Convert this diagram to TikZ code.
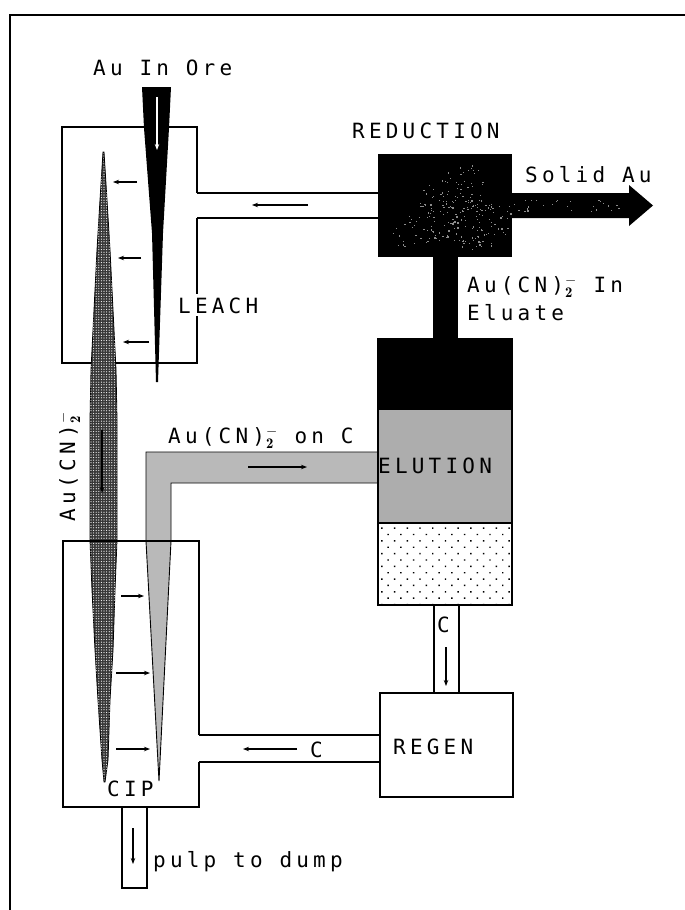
\documentclass[tikz,border=0pt]{standalone}
\usepackage{fontspec}
\newfontfamily\pf[LetterSpace=20]{DejaVu Sans Mono}
\usetikzlibrary{arrows.meta,patterns.meta}
\begin{document}
\begin{tikzpicture}[x=1pt,y=-1pt,
  lbl/.style={font=\pf\fontsize{21}{22}\selectfont, inner sep=0pt, anchor=base west},
  outl/.style={line width=1.1pt},
  arr/.style={line width=1.1pt, -{Stealth[length=6pt,width=4.5pt]}},
  warr/.style={line width=1.1pt, white, -{Stealth[length=6pt,width=4.5pt]}},
  darkspindle/.style={fill=black!78, draw=black, line width=0.8pt,
     postaction={pattern={Dots[distance=2.6pt,radius=0.6pt]}, pattern color=white}},
  lightgray/.style={fill=black!25, draw=black, line width=0.9pt,
     postaction={pattern={Dots[distance=2pt,radius=0.35pt]}, pattern color=black!50}},
]
\useasboundingbox (0,0) rectangle (685,910);
\newcommand\cnz{\kern1pt$^{-}_{\mathbf{2}}$}
% frame
\draw[line width=1.5pt] (10,910) -- (10,15) -- (685,15);

% LEACH box with pipe mouth
\draw[outl] (197,193) -- (197,127) -- (62,127) -- (62,363) -- (197,363) -- (197,218);
\draw[outl] (197,193) -- (378,193);
\draw[outl] (197,218) -- (378,218);
% CIP box with pipe mouth
\draw[outl] (199,735) -- (199,541) -- (63,541) -- (63,807) -- (199,807) -- (199,762);
\draw[outl] (199,735) -- (380,735);
\draw[outl] (199,762) -- (380,762);
% pulp pipe
\draw[outl] (122,807) -- (122,888) -- (147,888) -- (147,807);
% C pipe down
\draw[outl] (434,605) -- (434,693);
\draw[outl] (459,605) -- (459,693);
% REGEN box
\node[draw, outl, minimum width=133pt, minimum height=104pt, inner sep=0pt] (regen) at (446.5,745) {};

% ore funnel
\fill[black] (142,87) -- (171,87) -- (169,128) -- (163,233) -- (158,382) -- (156,382) -- (152,233) -- (144,128) -- cycle;
\draw[warr] (157,97) -- (157,150);

% dark spindle Au(CN)2-
\draw[darkspindle] (103,152) -- (100,200) -- (97,250) -- (94,310) -- (91,370) -- (90,420) -- (90,540)
  -- (92,590) -- (95,650) -- (98,700) -- (102,760) -- (104,782) -- (105,782) -- (108,760) -- (110,700)
  -- (113,650) -- (115,590) -- (117,540) -- (117,420) -- (116,370) -- (113,310) -- (110,250)
  -- (107,200) -- (104,152) -- cycle;
\draw[line width=1.3pt, -{Stealth[length=6pt,width=4.5pt]}] (102,430) -- (102,493);

% carbon (light grey) pipe and spindle
\draw[lightgray] (159,781) -- (146,541) -- (146,452) -- (378,452) -- (378,483) -- (171,483) -- (171,541) -- cycle;

% redraw CIP top line over spindles
\draw[outl] (63,541) -- (199,541);

% reduction
\node[fill=black, minimum width=134pt, minimum height=103pt, inner sep=0pt] (reduction) at (445,205.5) {};
\pgfmathsetseed{7}
\foreach \i in {1,...,230}{
  \pgfmathsetmacro\rr{sqrt(rnd)}
  \pgfmathsetmacro\tt{360*rnd}
  \pgfmathsetmacro\ww{1+0.25*sin(3*\tt)+0.15*cos(5*\tt)}
  \fill[black!45] ({455+54*\ww*\rr*cos(\tt)},{214+38*\ww*\rr*sin(\tt)}) rectangle ++(1.2,1.2);
}
% solid Au arrow
\fill[black] (512,193) -- (629,193) -- (629,185) -- (653,205.5) -- (629,226) -- (629,218) -- (512,218) -- cycle;
\foreach \i in {1,...,28}{
  \fill[black!45] ({508+115*rnd},{199+14*rnd}) rectangle ++(1.2,1.2);
}
% black eluate pipe
\fill[black] (433,256) rectangle (458,340);
% elution column
\fill[black] (378,339) rectangle (512,410);
\fill[black!30] (378,410) rectangle (512,523);
\fill[pattern={Dots[distance=2pt,radius=0.4pt]}, pattern color=black!50] (378,410) rectangle (512,523);
\fill[pattern={Dots[distance=9pt,radius=1pt,angle=45]}, pattern color=black] (378,523) rectangle (512,605);
\draw[outl] (378,339) rectangle (512,605);
\draw[outl] (378,523) -- (512,523);
\node[inner sep=0pt, minimum width=134pt, minimum height=266pt] (elution) at (445,472) {};

% arrows
\draw[arr] (308,205) -- (252,205);
\draw[arr] (137,182) -- (113,182);
\draw[arr] (141,258) -- (118,258);
\draw[arr] (149,342) -- (123,342);
\draw[arr] (121,596) -- (144,596);
\draw[arr] (116,673) -- (150,673);
\draw[arr] (116,749) -- (150,749);
\draw[arr] (248,467) -- (307,467);
\draw[arr] (297,749) -- (243,749);
\draw[arr] (446,647) -- (446,686);
\draw[arr] (133,828) -- (133,864);

% labels
\node[lbl] (ore) at (93,75) {Au In Ore};
\node[lbl] (redlbl) at (352,138) {REDUCTION};
\node[lbl] (solid) at (525,182) {Solid Au};
\node[lbl, fill=white, inner ysep=3pt, inner xsep=1pt] (leachlbl) at (177,313) {LEACH};
\node[lbl] (eluate1) at (467,292) {Au(CN)\cnz\ In};
\node[lbl] (eluate2) at (467,320) {Eluate};
\node[lbl] (elulbl) at (378,473) {ELUTION};
\node[lbl] (onc) at (168,443) {Au(CN)\cnz\ on C};
\node[lbl] (ciplbl) at (107,796) {CIP};
\node[lbl] (c1) at (310,757) {C};
\node[lbl] (c2) at (437,632) {C};
\node[lbl] (pulp) at (153,867) {pulp to dump};
\node[lbl] (regenlbl) at (393,754) {REGEN};
\node[lbl, rotate=90] (aucn) at (75,522) {Au(CN)\cnz};
\end{tikzpicture}
\end{document}
